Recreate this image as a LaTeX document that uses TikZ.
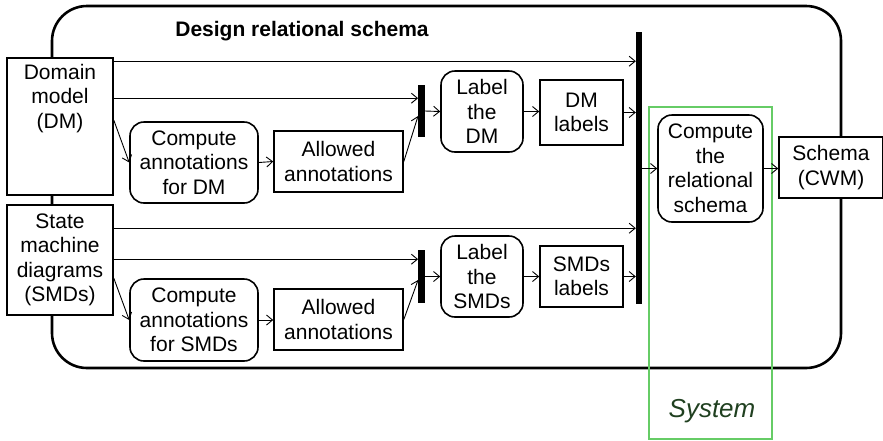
\documentclass[tikz,border=0pt]{standalone}
\usepackage{fontspec}
\setmainfont{Liberation Sans}
\usetikzlibrary{arrows.meta}
\definecolor{sysgreen}{RGB}{102,204,102}
\definecolor{systext}{RGB}{32,64,32}
\begin{document}
\begin{tikzpicture}[x=1pt,y=-1pt,
  every node/.style={font=\fontsize{21}{24.5}\selectfont, align=center, inner sep=0pt},
  databox/.style={draw, line width=1.6pt, fill=white},
  actbox/.style={draw, line width=1.6pt, fill=white, rounded corners=14pt},
  syncbar/.style={fill=black, draw=none},
  arr/.style={line width=0.9pt, -{Straight Barb[length=6pt,width=10pt,line width=0.9pt]}}
]
\useasboundingbox (0,0) rectangle (883,440);

% enclosing activity
\draw[line width=2.6pt, rounded corners=35pt] (52,6) rectangle (841,368);
\node[font=\fontsize{21}{24.5}\selectfont\bfseries] (title) at (302,31) {Design relational schema};

% system partition
\draw[sysgreen, line width=2.4pt] (649,107) rectangle (772,439);
\node[font=\fontsize{26}{30}\selectfont\itshape, text=systext] (sys) at (712,411) {System};

% inputs (domain model text sits in the upper part of its box)
\node[databox, minimum width=106pt, minimum height=137pt] (dm) at (60,126.5) {};
\node (dmtext) at ([yshift=-41pt]dm.north) {Domain\\model\\(DM)};
\node[databox, minimum width=106pt, minimum height=110pt] (smd) at (60,260) {State\\machine\\diagrams\\(SMDs)};

% domain model branch
\node[actbox, minimum width=128pt, minimum height=81pt] (cdm) at (194,162.5) {Compute\\annotations\\for DM};
\node[databox, minimum width=129pt, minimum height=61pt] (adm) at (338.5,161.5) {Allowed\\annotations};
\node[syncbar, minimum width=6.5pt, minimum height=52pt] (bar1) at (421.5,111) {};
\node[actbox, minimum width=82pt, minimum height=81pt] (ldm) at (482,111.5) {Label\\the\\DM};
\node[databox, minimum width=83pt, minimum height=65pt] (dml) at (581.5,112.5) {DM\\labels};

% state machine branch
\node[actbox, minimum width=128pt, minimum height=82pt] (csmd) at (194,320) {Compute\\annotations\\for SMDs};
\node[databox, minimum width=129pt, minimum height=61pt] (asmd) at (338.5,319.5) {Allowed\\annotations};
\node[syncbar, minimum width=6.5pt, minimum height=53pt] (bar2) at (421.5,276.5) {};
\node[actbox, minimum width=82pt, minimum height=81pt] (lsmd) at (482,276.5) {Label\\the\\SMDs};
\node[databox, minimum width=83pt, minimum height=61pt] (smdl) at (581.5,276.5) {SMDs\\labels};

% join and output
\node[syncbar, minimum width=6pt, minimum height=272pt] (bigbar) at (639,168) {};
\node[actbox, minimum width=105pt, minimum height=107pt] (crs) at (710.5,168.5) {Compute\\the\\relational\\schema};
\node[databox, minimum width=104pt, minimum height=61pt] (cwm) at (831,167.5) {Schema\\(CWM)};

% connectors: domain model
\draw[arr] ([yshift=-4pt]dm.north east) -- ([yshift=-4pt]dm.north east -| bigbar.west);
\draw[arr] ([yshift=-41pt]dm.north east) -- ([yshift=-41pt]dm.north east -| bar1.west);
\draw[arr] ([yshift=-63pt]dm.north east) -- (cdm.west);
\draw[arr] (cdm.east) -- (adm.west);
\draw[arr] (adm.east) -- ([yshift=-5pt]bar1.west);
\draw[arr] (bar1.east) -- (ldm.west);
\draw[arr] (ldm.east) -- (ldm.east -| dml.west);
\draw[arr] (dml.east) -- (dml.east -| bigbar.west);

% connectors: state machines
\draw[arr] ([yshift=-24pt]smd.north east) -- ([yshift=-24pt]smd.north east -| bigbar.west);
\draw[arr] ([yshift=-55pt]smd.north east) -- ([yshift=-55pt]smd.north east -| bar2.west);
\draw[arr] ([yshift=-74pt]smd.north east) -- (csmd.west);
\draw[arr] (csmd.east) -- (csmd.east -| asmd.west);
\draw[arr] (asmd.east) -- ([yshift=-3.5pt]bar2.west);
\draw[arr] (bar2.east) -- (lsmd.west);
\draw[arr] (lsmd.east) -- (smdl.west);
\draw[arr] (smdl.east) -- (smdl.east -| bigbar.west);

% connectors: output
\draw[arr] (bigbar.east |- crs.west) -- (crs.west);
\draw[arr] (crs.east) -- (crs.east -| cwm.west);
\end{tikzpicture}
\end{document}
